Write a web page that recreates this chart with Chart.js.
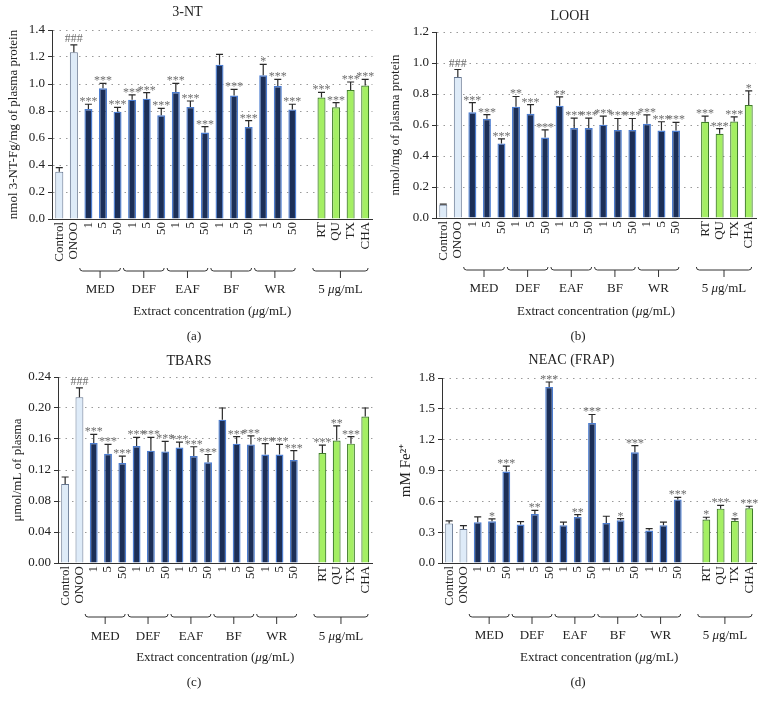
<!DOCTYPE html>
<html><head><meta charset="utf-8">
<script src="https://cdn.jsdelivr.net/npm/chart.js@4.4.1/dist/chart.umd.min.js"></script>
<style>
body{margin:0;background:#fff;width:768px;height:710px;position:relative;overflow:hidden}
.p{position:absolute;width:384px;height:355px}
</style></head><body>
<div class="p" style="left:0;top:0"><canvas id="ca" width="384" height="355"></canvas></div>
<div class="p" style="left:384px;top:0"><canvas id="cb" width="384" height="355"></canvas></div>
<div class="p" style="left:0;top:345px"><canvas id="cc" width="384" height="355"></canvas></div>
<div class="p" style="left:384px;top:345px"><canvas id="cd" width="384" height="355"></canvas></div>
<script>
// ---- data ----
const categories = ['Control','ONOO','1','5','50','1','5','50','1','5','50','1','5','50','1','5','50','','RT','QU','TX','CHA'];
const groupNames = ['MED','DEF','EAF','BF','WR','5 μg/mL'];
const groupFirst = [2,5,8,11,14,18];
const groupLast = [4,7,10,13,16,21];
const xAxisTitle = 'Extract concentration (μg/mL)';

const ntValues = [0.35,1.235,0.815,0.968,0.795,0.884,0.891,0.768,0.94,0.83,0.64,1.143,0.914,0.682,1.064,0.985,0.812,null,0.90,0.827,0.956,0.988];
const ntErrors = [0.03,0.055,0.035,0.037,0.032,0.036,0.045,0.052,0.065,0.044,0.044,0.077,0.046,0.046,0.082,0.05,0.038,null,0.038,0.035,0.059,0.047];
const ntSig = ['','###','***','***','***','***','***','***','***','***','***','','***','***','*','***','***','','***','***','***','***'];

const loohValues = [0.085,0.909,0.682,0.640,0.481,0.718,0.672,0.519,0.725,0.580,0.580,0.602,0.568,0.568,0.608,0.564,0.564,null,0.621,0.544,0.623,0.729];
const loohErrors = [0.004,0.049,0.062,0.027,0.030,0.066,0.059,0.049,0.057,0.064,0.064,0.055,0.074,0.074,0.057,0.057,0.053,null,0.036,0.032,0.030,0.091];
const loohSig = ['','###','***','***','***','**','***','***','**','***','***','***','***','***','***','***','***','','***','***','***','*'];

const tbarsValues = [0.102,0.214,0.155,0.141,0.129,0.151,0.145,0.144,0.149,0.138,0.130,0.185,0.154,0.153,0.140,0.140,0.133,null,0.142,0.158,0.154,0.189];
const tbarsErrors = [0.009,0.012,0.011,0.012,0.009,0.011,0.017,0.013,0.007,0.012,0.010,0.015,0.009,0.011,0.014,0.013,0.012,null,0.010,0.019,0.009,0.011];
const tbarsSig = ['','###','***','***','***','***','***','***','***','***','***','','***','***','***','***','***','','***','**','***',''];

const frapValues = [0.384,0.332,0.397,0.406,0.890,0.374,0.477,1.713,0.368,0.448,1.361,0.390,0.416,1.077,0.316,0.368,0.619,null,0.423,0.529,0.410,0.532];
const frapErrors = [0.026,0.032,0.051,0.023,0.052,0.029,0.036,0.048,0.029,0.023,0.084,0.065,0.016,0.065,0.019,0.029,0.020,null,0.022,0.032,0.019,0.020];
const frapSig = ['','','','*','***','','**','***','','**','***','','*','***','','','***','','*','***','*','***'];

// ---- rendering ----
const FONT = '"Liberation Serif", "Times New Roman", serif';
function barFill(i){ return i < 2 ? '#deebf8' : i < 17 ? '#1c2f57' : '#a4ef63'; }
function barEdge(i){ return i < 2 ? '#63748f' : i < 17 ? '#4c7dd0' : '#3f7d29'; }

function drawRich(ctx, text, cx, cy, size){
  const parts = text.split(/(μ)/).filter(p => p.length);
  const fonts = parts.map(p => (p === 'μ' ? 'italic ' : '') + size + 'px ' + FONT);
  let w = 0; const ws = parts.map((p,k) => { ctx.font = fonts[k]; const m = ctx.measureText(p).width; w += m; return m; });
  let x = cx - w/2;
  ctx.textAlign = 'left'; ctx.textBaseline = 'middle';
  parts.forEach((p,k) => { ctx.font = fonts[k]; ctx.fillText(p, x, cy); x += ws[k]; });
}

function makePanel(id, cfg){
  const overlay = {
    id: 'overlay',
    afterDatasetsDraw(chart){
      const ctx = chart.ctx, meta = chart.getDatasetMeta(0), ys = chart.scales.y;
      ctx.save();
      meta.data.forEach((bar, i) => {
        const v = cfg.values[i], e = cfg.errors[i];
        if (v == null) return;
        const yTop = ys.getPixelForValue(v), yErr = ys.getPixelForValue(v + e);
        ctx.strokeStyle = '#2a2a2a'; ctx.lineWidth = 1.2;
        ctx.beginPath();
        ctx.moveTo(bar.x, yTop); ctx.lineTo(bar.x, yErr);
        ctx.moveTo(bar.x - 3.5, yErr); ctx.lineTo(bar.x + 3.5, yErr);
        ctx.stroke();
        const s = cfg.sig[i];
        if (s){
          ctx.fillStyle = '#6e6e6e'; ctx.font = '12px ' + FONT;
          ctx.textAlign = 'center'; ctx.textBaseline = 'alphabetic';
          ctx.fillText(s, bar.x, s[0] === '#' ? yErr - 3 : yErr + 1);
        }
      });
      ctx.restore();
    },
    afterDraw(chart){
      const ctx = chart.ctx, xs = chart.scales.x, ca = chart.chartArea;
      const s = xs.getPixelForValue(1) - xs.getPixelForValue(0);
      const by = ca.bottom + cfg.bracketOff;
      ctx.save();
      ctx.strokeStyle = '#333'; ctx.lineWidth = 1; ctx.fillStyle = '#222';
      groupNames.forEach((g, k) => {
        const x1 = xs.getPixelForValue(groupFirst[k]) - 0.6*s;
        const x2 = xs.getPixelForValue(groupLast[k]) + 0.2*s;
        const xm = (x1 + x2)/2;
        ctx.beginPath();
        ctx.moveTo(x1, by - 3); ctx.quadraticCurveTo(x1, by, x1 + 3, by);
        ctx.lineTo(x2 - 3, by); ctx.quadraticCurveTo(x2, by, x2, by - 3);
        ctx.moveTo(xm, by); ctx.lineTo(xm, by + 7);
        ctx.stroke();
        drawRich(ctx, g, xm, ca.bottom + cfg.labelOff, 13);
      });
      drawRich(ctx, xAxisTitle, (ca.left + ca.right)/2, ca.bottom + cfg.xTitleOff, 13);
      ctx.font = '13px ' + FONT; ctx.textAlign = 'center'; ctx.textBaseline = 'middle';
      ctx.fillText(cfg.letter, chart.width/2 + 2, ca.bottom + cfg.letterOff);
      ctx.restore();
    }
  };
  new Chart(document.getElementById(id), {
    type: 'bar',
    data: { labels: categories, datasets: [{
      data: cfg.values,
      backgroundColor: categories.map((c,i) => barFill(i)),
      borderColor: categories.map((c,i) => barEdge(i)),
      borderWidth: categories.map((c,i) => i < 2 ? 1 : i < 17 ? 1.4 : 1.2),
      borderSkipped: 'start',
      barPercentage: 0.55, categoryPercentage: 1
    }]},
    options: {
      responsive: false, animation: false, devicePixelRatio: 1,
      layout: { padding: { left: 0, right: cfg.padRight, top: 0, bottom: 0 } },
      plugins: {
        legend: { display: false }, tooltip: { enabled: false },
        title: { display: true, text: cfg.title, color: '#222',
          font: { family: FONT, size: 14, weight: 'normal' },
          padding: { top: cfg.titleTop, bottom: cfg.titleBottom } }
      },
      scales: {
        x: {
          grid: { display: false, drawTicks: false },
          border: { display: true, color: '#333', width: 1 },
          ticks: { autoSkip: false, minRotation: 90, maxRotation: 90, padding: 3, color: '#222',
            font: { family: FONT, size: 13 } },
          afterFit(sc){ sc.height = cfg.xHeight; }
        },
        y: {
          min: 0, max: cfg.max,
          ticks: { stepSize: cfg.step, color: '#222', padding: 3,
            font: { family: FONT, size: 13 }, callback: v => Number(v).toFixed(cfg.dec) },
          grid: { color: '#9a9a9a', lineWidth: 1, drawTicks: true, tickLength: 4,
            tickColor: '#333', tickWidth: 1, tickBorderDash: [] },
          border: { display: true, color: '#333', width: 1, dash: [1.5, 5] },
          title: { display: true, text: cfg.yTitle, color: '#222',
            font: { family: FONT, size: cfg.yTitleSize }, padding: { top: cfg.yTitlePad, bottom: 0 } },
          afterFit(sc){ sc.width = cfg.left; }
        }
      }
    },
    plugins: [overlay]
  });
}

makePanel('ca', { title: '3-NT', yTitle: 'nmol 3-NT-Fg/mg of plasma protein', yTitleSize: 13, yTitlePad: 6,
  values: ntValues, errors: ntErrors, sig: ntSig, max: 1.4, step: 0.2, dec: 1,
  titleTop: 4, titleBottom: 9.2, xHeight: 136, left: 52, padRight: 9,
  bracketOff: 52, labelOff: 71, xTitleOff: 93, letterOff: 118, letter: '(a)' });
makePanel('cb', { title: 'LOOH', yTitle: 'nmol/mg of plasma protein', yTitleSize: 13, yTitlePad: 4,
  values: loohValues, errors: loohErrors, sig: loohSig, max: 1.2, step: 0.2, dec: 1,
  titleTop: 8, titleBottom: 7.2, xHeight: 137, left: 52, padRight: 12,
  bracketOff: 52, labelOff: 71, xTitleOff: 94, letterOff: 119, letter: '(b)' });
makePanel('cc', { title: 'TBARS', yTitle: 'μmol/mL of plasma', yTitleSize: 13, yTitlePad: 10,
  values: tbarsValues, errors: tbarsErrors, sig: tbarsSig, max: 0.24, step: 0.04, dec: 2,
  titleTop: 8, titleBottom: 7.2, xHeight: 137, left: 58, padRight: 6,
  bracketOff: 54, labelOff: 74, xTitleOff: 95, letterOff: 120, letter: '(c)' });
makePanel('cd', { title: 'NEAC (FRAP)', yTitle: 'mM Fe²⁺', yTitleSize: 15, yTitlePad: 13,
  values: frapValues, errors: frapErrors, sig: frapSig, max: 1.8, step: 0.3, dec: 1,
  titleTop: 7, titleBottom: 9.2, xHeight: 137, left: 58, padRight: 9,
  bracketOff: 54, labelOff: 73, xTitleOff: 95, letterOff: 120, letter: '(d)' });
</script>
</body></html>
